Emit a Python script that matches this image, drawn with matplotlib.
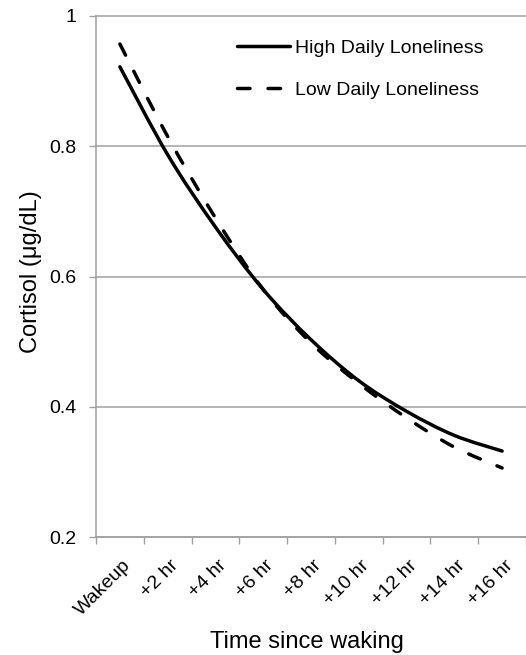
import matplotlib
matplotlib.use('Agg')
import matplotlib.pyplot as plt
import matplotlib.transforms as mtransforms
from matplotlib.path import Path
from matplotlib.patches import PathPatch

categories = ['Wakeup', '+2 hr', '+4 hr', '+6 hr', '+8 hr', '+10 hr', '+12 hr', '+14 hr', '+16 hr']
high_lonely = [0.922, 0.787, 0.676, 0.580, 0.503, 0.440, 0.393, 0.356, 0.332]
low_lonely = [0.957, 0.815, 0.690, 0.580, 0.498, 0.436, 0.383, 0.338, 0.306]
y_ticks = [0.2, 0.4, 0.6, 0.8, 1.0]
y_tick_labels = ['0.2', '0.4', '0.6', '0.8', '1']

plt.rcParams['font.family'] = ['Liberation Sans', 'DejaVu Sans']
gray = '#a0a0a0'
LW = 2.5
DASH = (0, (3.6, 5.2))


def smooth_path(xs, ys):
    # Catmull-Rom style bezier, like the "smoothed line" option in a spreadsheet
    pts = list(zip(xs, ys))
    verts = [pts[0]]
    codes = [Path.MOVETO]
    n = len(pts)
    for i in range(n - 1):
        p0 = pts[max(i - 1, 0)]
        p1 = pts[i]
        p2 = pts[i + 1]
        p3 = pts[min(i + 2, n - 1)]
        c1 = (p1[0] + (p2[0] - p0[0]) / 6, p1[1] + (p2[1] - p0[1]) / 6)
        c2 = (p2[0] - (p3[0] - p1[0]) / 6, p2[1] - (p3[1] - p1[1]) / 6)
        verts += [c1, c2, p2]
        codes += [Path.CURVE4] * 3
    return Path(verts, codes)


fig = plt.figure(figsize=(5.26, 6.55), dpi=100)
ax = fig.add_axes([96 / 526, 118 / 655, 430 / 526, 521 / 655])

x = list(range(len(categories)))
ax.add_patch(PathPatch(smooth_path(x, high_lonely), fill=False, color='black',
                       lw=LW, capstyle='round', zorder=3))
ax.add_patch(PathPatch(smooth_path(x, low_lonely), fill=False, color='black',
                       lw=LW, ls=DASH, capstyle='round', zorder=3))
# legend handles
ax.plot([], [], color='black', lw=LW, solid_capstyle='round', label='High Daily Loneliness')
ax.plot([], [], color='black', lw=LW, ls=DASH, dash_capstyle='round', label='Low Daily Loneliness')

ax.set_xlim(-0.5, len(categories) - 0.5)
ax.set_ylim(0.2, 1.0)

# y axis
ax.set_yticks(y_ticks, y_tick_labels, fontsize=14)
ax.yaxis.grid(True, color=gray, lw=1.1, clip_on=False)
ax.set_axisbelow(True)
ax.tick_params(axis='y', direction='out', length=5, width=1, color=gray, pad=9)

# x axis: labels at category centres, ticks between categories
ax.set_xticks(x, categories, fontsize=14, rotation=45, ha='right', va='top',
              rotation_mode='anchor')
ax.set_xticks([i - 0.5 for i in range(len(categories) + 1)], minor=True)
ax.tick_params(axis='x', which='major', length=0, pad=14.5)
ax.tick_params(axis='x', which='minor', direction='out', length=5, width=1, color=gray)
offset = mtransforms.ScaledTranslation(2 / 100, 0, fig.dpi_scale_trans)
for lab in ax.get_xticklabels():
    lab.set_transform(lab.get_transform() + offset)

for side in ['top', 'right']:
    ax.spines[side].set_visible(False)
for side in ['left', 'bottom']:
    ax.spines[side].set_color(gray)
    ax.spines[side].set_linewidth(1.1)

ax.set_ylabel('Cortisol (\u03bcg/dL)', fontsize=17)
ax.yaxis.set_label_coords(-0.125, 0.51)
ax.set_xlabel('Time since waking', fontsize=17)
ax.xaxis.set_label_coords(0.49, -0.18)

leg = ax.legend(loc='center left', bbox_to_anchor=(227 / 526, 1 - 69 / 655),
                bbox_transform=fig.transFigure, frameon=False, fontsize=14,
                borderpad=0, handlelength=2.75, handletextpad=0.25,
                labelspacing=1.25)

fig.savefig('out.png', dpi=100)
